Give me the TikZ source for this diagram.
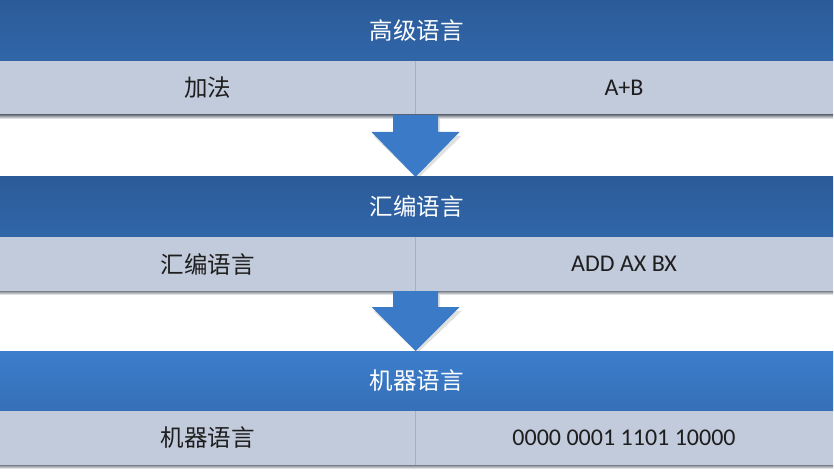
\documentclass[tikz,border=0pt]{standalone}
\usepackage{fontspec}
\setmainfont{Carlito}
\newfontfamily\cjk{Noto Sans CJK SC}
\usetikzlibrary{calc}
\definecolor{hdrTop}{HTML}{2C5B99}
\definecolor{hdrBot}{HTML}{3066A9}
\definecolor{hdrTopB}{HTML}{3C7ECC}
\definecolor{hdrBotB}{HTML}{356FB7}
\definecolor{rowfill}{HTML}{C1CBDB}
\definecolor{divider}{HTML}{A6B0C1}
\definecolor{arrowfill}{HTML}{3A7AC7}
\definecolor{shadowc}{HTML}{7A808A}
\definecolor{txt}{HTML}{1E1E1E}
\tikzset{
  x=1pt, y=-1pt,
  hdr/.style={anchor=north west, minimum width=833pt, minimum height=61pt,
    inner sep=0pt, outer sep=0pt, top color=hdrTop, bottom color=hdrBot,
    text=white, font=\cjk\fontsize{23.5}{28}\selectfont},
  hdrB/.style={hdr, top color=hdrTopB, bottom color=hdrBotB, minimum height=60pt},
  cellL/.style={anchor=north west, minimum width=415pt, minimum height=54pt,
    inner sep=0pt, outer sep=0pt, fill=rowfill, text=txt,
    font=\cjk\fontsize{23.5}{28}\selectfont},
  cellR/.style={cellL, minimum width=418pt, font=\fontsize{24}{28}\selectfont},
  rowshadow/.style={top color=shadowc, bottom color=white},
  blockarrow/.style={fill=arrowfill},
  arrowshadow/.style={fill=black, opacity=0.12},
}
\begin{document}
\begin{tikzpicture}
\useasboundingbox (0,0) rectangle (834,473);
\fill[white] (0,0) rectangle (834,473);

% ---------- level 1 ----------
\node[hdr] (h1) at (0,0) {高级语言};
\node[cellL] (l1) at (0,61) {加法};
\node[cellR] (r1) at (415,61) {A+B};
\draw[divider, line width=1pt] (r1.north west) -- (r1.south west);
\fill[rowshadow] (l1.south west) rectangle ($(r1.south east)+(0,4)$);

% ---------- arrow 1 ----------
\coordinate (a1) at ($(l1.south east)!0.5!(r1.south west)+(0.5,0)$);
\fill[arrowshadow] ($(a1)+(-20.5,4)$) -- ++(45,0) -- ++(0,17) -- ++(21.5,0)
   -- ($(a1)+(2,64)$) -- ($(a1)+(-42,21)$) -- ++(21.5,0) -- cycle;
\fill[blockarrow] ($(a1)+(-22.5,0)$) -- ++(45,0) -- ++(0,17) -- ++(21.5,0)
   -- ($(a1)+(0,62)$) -- ($(a1)+(-44,17)$) -- ++(21.5,0) -- cycle;

% ---------- level 2 ----------
\node[hdr] (h2) at (0,176) {汇编语言};
\node[cellL] (l2) at (0,237) {汇编语言};
\node[cellR] (r2) at (415,237) {ADD AX BX};
\draw[divider, line width=1pt] (r2.north west) -- (r2.south west);
\fill[rowshadow] (l2.south west) rectangle ($(r2.south east)+(0,4)$);

% ---------- arrow 2 ----------
\coordinate (a2) at ($(l2.south east)!0.5!(r2.south west)+(0.5,0)$);
\fill[arrowshadow] ($(a2)+(-20.5,4)$) -- ++(45,0) -- ++(0,16) -- ++(21.5,0)
   -- ($(a2)+(2,62)$) -- ($(a2)+(-42,20)$) -- ++(21.5,0) -- cycle;
\fill[blockarrow] ($(a2)+(-22.5,0)$) -- ++(45,0) -- ++(0,16) -- ++(21.5,0)
   -- ($(a2)+(0,60)$) -- ($(a2)+(-44,16)$) -- ++(21.5,0) -- cycle;

% ---------- level 3 ----------
\node[hdrB] (h3) at (0,351) {机器语言};
\node[cellL] (l3) at (0,411) {机器语言};
\node[cellR] (r3) at (415,411) {0000 0001 1101 10000};
\draw[divider, line width=1pt] (r3.north west) -- (r3.south west);
\fill[rowshadow] (l3.south west) rectangle ($(r3.south east)+(0,4)$);
\end{tikzpicture}
\end{document}
